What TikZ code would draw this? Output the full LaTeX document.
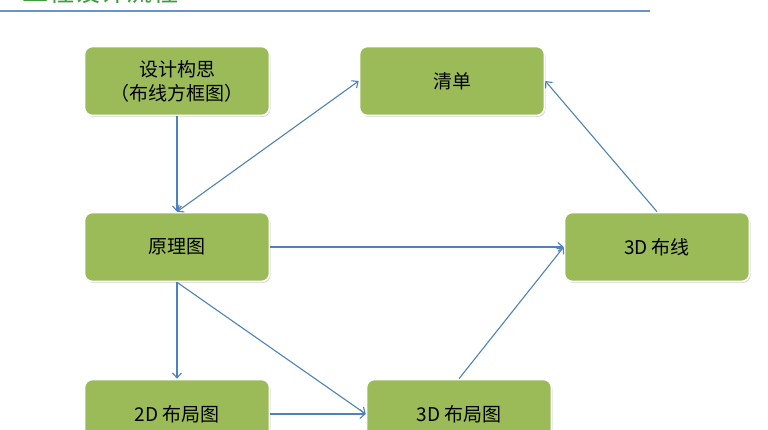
\documentclass[tikz,border=0pt]{standalone}
\usepackage{fontspec}
\setmainfont{Noto Sans CJK SC}
\usetikzlibrary{arrows.meta,shadows}
\definecolor{boxgreen}{HTML}{9BBB59}
\definecolor{linkblue}{HTML}{4F81BD}
\definecolor{titlegreen}{HTML}{3E9E3E}
\begin{document}
\begin{tikzpicture}[x=1pt,y=-1pt,
  stagebox/.style={rectangle,rounded corners=8pt,fill=boxgreen,draw=white,line width=1.6pt,
    minimum width=185pt,minimum height=69pt,align=center,text=black,
    font=\fontsize{19}{24}\selectfont,
    drop shadow={shadow xshift=1pt,shadow yshift=-1.5pt,opacity=0.3,fill=black!60}},
  link/.style={draw=linkblue,line width=1.1pt,-{Straight Barb[length=5pt,width=9pt]}}]
\useasboundingbox (0,0) rectangle (768,430);
\node[anchor=base west,text=titlegreen,font=\fontsize{26}{30}\selectfont,inner sep=0pt] (title) at (22,2) {工程设计流程};
\draw[linkblue!85,line width=2pt] (0,11.5) -- (650,11.5);
\node[stagebox] (idea) at (177,81) {设计构思\\（布线方框图）};
\node[stagebox] (list) at (452,81) {清单};
\node[stagebox] (schem) at (177,247) {原理图};
\node[stagebox] (route) at (657,247) {3D 布线};
\node[stagebox] (pcbtwo) at (177,414) {2D 布局图};
\node[stagebox] (pcbthree) at (459,414) {3D 布局图};
\draw[link] (idea.south) -- (schem.north);
\draw[link,{Straight Barb[length=5pt,width=9pt]}-{Straight Barb[length=5pt,width=9pt]}] (schem.north) -- (list.west);
\draw[link] (schem.east) -- (route.west);
\draw[link] (schem.south) -- (pcbtwo.north);
\draw[link] (schem.south) -- (pcbthree.west);
\draw[link] (pcbtwo.east) -- (pcbthree.west);
\draw[link] (pcbthree.north) -- (route.west);
\draw[link] (route.north) -- (list.east);
\end{tikzpicture}
\end{document}
